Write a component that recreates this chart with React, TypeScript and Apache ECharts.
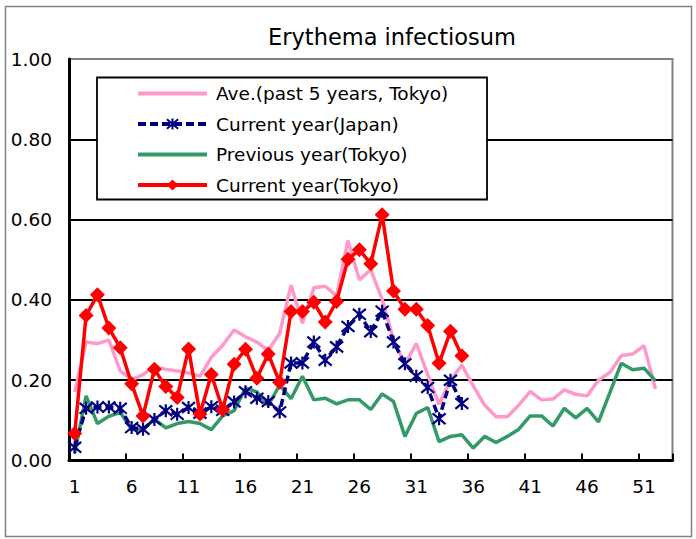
import React, { useEffect, useRef } from "react";
import * as echarts from "echarts";

const weeks: string[] = Array.from({ length: 53 }, (_, i) => String(i + 1));
const yTicks: number[] = [0, 0.2, 0.4, 0.6, 0.8, 1.0];

const aveTokyo: number[] = [
  0.171, 0.295, 0.291, 0.300, 0.223, 0.201, 0.214, 0.235, 0.227, 0.223,
  0.218, 0.210, 0.257, 0.287, 0.325, 0.308, 0.295, 0.274, 0.317, 0.437,
  0.342, 0.430, 0.434, 0.410, 0.548, 0.450, 0.475, 0.402, 0.300, 0.240,
  0.291, 0.214, 0.140, 0.200, 0.238, 0.186, 0.138, 0.109, 0.109, 0.138,
  0.172, 0.151, 0.153, 0.176, 0.165, 0.161, 0.200, 0.219, 0.261, 0.265,
  0.286, 0.178,
];

const currentJapan: number[] = [
  0.033, 0.130, 0.133, 0.133, 0.130, 0.082, 0.078, 0.102, 0.124, 0.115,
  0.132, 0.118, 0.134, 0.125, 0.146, 0.171, 0.155, 0.147, 0.121, 0.243,
  0.243, 0.295, 0.250, 0.283, 0.334, 0.364, 0.321, 0.372, 0.295, 0.241,
  0.210, 0.182, 0.104, 0.200, 0.142,
];

const previousTokyo: number[] = [
  0.018, 0.161, 0.092, 0.110, 0.120, 0.077, 0.077, 0.103, 0.081, 0.092,
  0.097, 0.092, 0.077, 0.111, 0.124, 0.180, 0.171, 0.137, 0.188, 0.154,
  0.210, 0.151, 0.155, 0.141, 0.151, 0.151, 0.127, 0.166, 0.147, 0.060,
  0.117, 0.132, 0.047, 0.060, 0.064, 0.031, 0.060, 0.045, 0.060, 0.078,
  0.111, 0.111, 0.086, 0.130, 0.106, 0.130, 0.096, 0.169, 0.242, 0.226,
  0.230, 0.199,
];

const currentTokyo: number[] = [
  0.067, 0.361, 0.413, 0.330, 0.281, 0.191, 0.111, 0.227, 0.184, 0.157,
  0.278, 0.116, 0.214, 0.127, 0.240, 0.277, 0.205, 0.265, 0.195, 0.371,
  0.371, 0.394, 0.345, 0.396, 0.501, 0.525, 0.490, 0.612, 0.422, 0.377,
  0.377, 0.336, 0.242, 0.322, 0.261,
];

const seriesNames: string[] = [
  "Ave.(past 5 years, Tokyo)",
  "Current year(Japan)",
  "Previous year(Tokyo)",
  "Current year(Tokyo)",
];

const FONT = "DejaVu Sans";
const ASTERISK = "path://M0,0L10,10M10,0L0,10M5,-1L5,11";

export default function App() {
  const ref = useRef<HTMLDivElement>(null);
  useEffect(() => {
    if (!ref.current) return;
    const chart = echarts.init(ref.current, null, { renderer: "svg" });
    chart.setOption({
      animation: false,
      backgroundColor: "#fff",
      title: {
        text: "Erythema infectiosum",
        left: 392,
        textAlign: "center",
        top: 25,
        padding: 0,
        textStyle: { fontFamily: FONT, fontSize: 22.5, fontWeight: "normal", color: "#000" },
      },
      graphic: [
        {
          type: "rect",
          z: 0,
          silent: true,
          shape: { x: 5.5, y: 6.5, width: 686, height: 530 },
          style: { fill: "none", stroke: "#808080", lineWidth: 1.5 },
        },
        {
          type: "rect",
          z: 3,
          silent: true,
          shape: { x: 97, y: 77.5, width: 390, height: 122 },
          style: { fill: "#fff", stroke: "#000", lineWidth: 1.8 },
        },
      ],
      legend: {
        z: 4,
        orient: "vertical",
        left: 131,
        top: 78.5,
        itemWidth: 69,
        itemHeight: 14,
        itemGap: 10.5,
        data: [
          { name: seriesNames[0], itemStyle: { opacity: 0 }, lineStyle: { width: 4 } },
          { name: seriesNames[1], lineStyle: { width: 4 } },
          { name: seriesNames[2], itemStyle: { opacity: 0 }, lineStyle: { width: 4 } },
          { name: seriesNames[3], lineStyle: { width: 4 } },
        ],
        textStyle: {
          fontFamily: FONT,
          fontSize: 18.5,
          color: "#000",
          lineHeight: 20,
          padding: [0, 0, 0, 4],
        },
      },
      grid: {
        left: 69,
        right: 23.5,
        top: 59,
        bottom: 78.5,
        show: true,
        borderColor: "#808080",
        borderWidth: 2,
        backgroundColor: "transparent",
      },
      xAxis: {
        type: "category",
        data: weeks,
        boundaryGap: true,
        axisLine: { show: true, lineStyle: { color: "#000", width: 3 } },
        axisTick: { show: true, inside: true, length: 7, interval: 4, lineStyle: { color: "#000", width: 2 } },
        axisLabel: {
          interval: 4,
          margin: 16,
          fontFamily: FONT,
          fontSize: 18.5,
          color: "#000",
        },
        splitLine: { show: false },
      },
      yAxis: {
        type: "value",
        min: yTicks[0],
        max: yTicks[yTicks.length - 1],
        interval: 0.2,
        axisLine: { show: true, lineStyle: { color: "#000", width: 3 } },
        axisTick: { show: false },
        axisLabel: {
          margin: 17,
          fontFamily: FONT,
          fontSize: 18.5,
          color: "#000",
          formatter: (v: number) => v.toFixed(2),
        },
        splitLine: { show: true, showMaxLine: false, lineStyle: { color: "#000", width: 2 } },
      },
      series: [
        {
          name: seriesNames[0],
          type: "line",
          data: aveTokyo,
          symbol: "none",
          z: 2,
          lineStyle: { color: "#FF99CC", width: 3.5 },
          itemStyle: { color: "#FF99CC" },
        },
        {
          name: seriesNames[2],
          type: "line",
          data: previousTokyo,
          symbol: "none",
          z: 2,
          lineStyle: { color: "#339966", width: 3.5 },
          itemStyle: { color: "#339966" },
        },
        {
          name: seriesNames[1],
          type: "line",
          data: currentJapan,
          symbol: ASTERISK,
          symbolSize: 13,
          showAllSymbol: true,
          z: 3,
          lineStyle: { color: "#000080", width: 3.5, type: [8, 4] },
          itemStyle: { color: "#000080", borderColor: "#000080", borderWidth: 2.2 },
        },
        {
          name: seriesNames[3],
          type: "line",
          data: currentTokyo,
          symbol: "diamond",
          symbolSize: 15,
          showAllSymbol: true,
          z: 4,
          lineStyle: { color: "#FF0000", width: 3.5 },
          itemStyle: { color: "#FF0000" },
        },
      ],
    });
    return () => chart.dispose();
  }, []);
  return (
    <div
      ref={ref}
      style={{ position: "fixed", left: 0, top: 0, width: 696, height: 539, background: "#fff" }}
    />
  );
}
